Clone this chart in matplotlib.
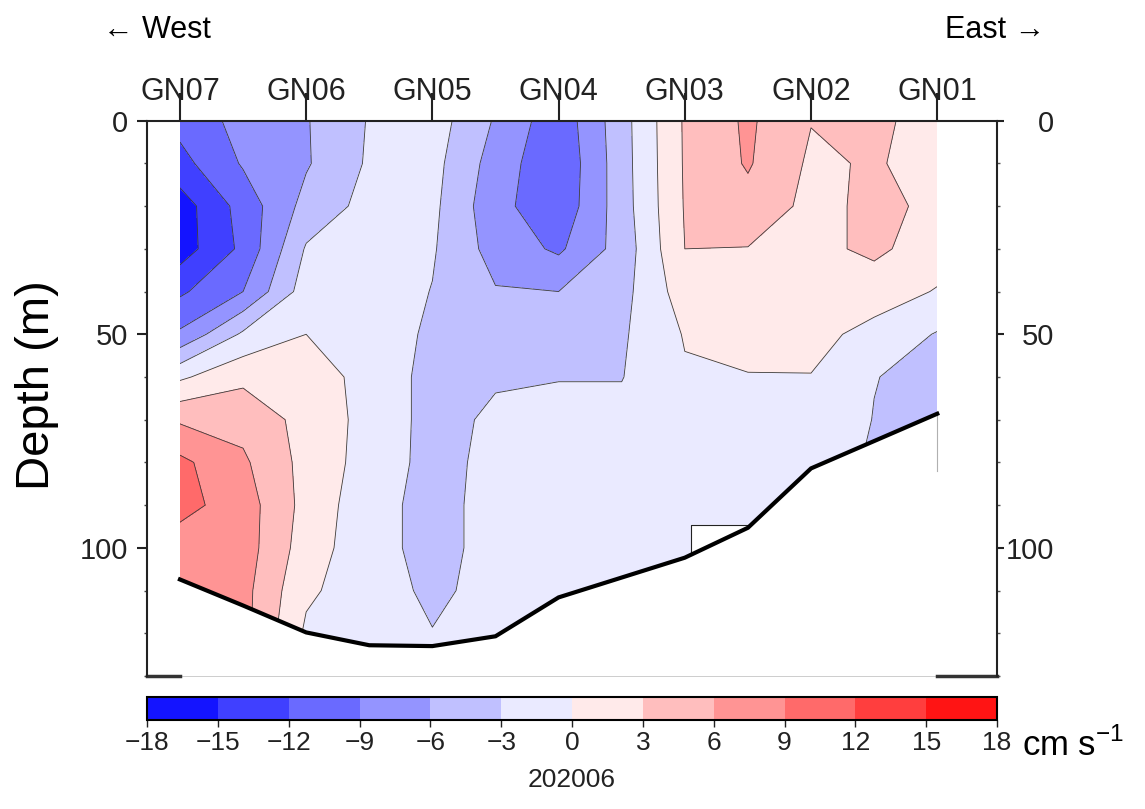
import matplotlib
matplotlib.use('Agg')
import matplotlib.pyplot as plt
from matplotlib.ticker import MultipleLocator
import numpy as np

plt.rcParams['font.family'] = ['Liberation Sans', 'DejaVu Sans']
plt.rcParams['mathtext.fontset'] = 'custom'
plt.rcParams['mathtext.rm'] = 'Liberation Sans'

# stations along the section (west -> east)
stations = ['GN07', 'GN06', 'GN05', 'GN04', 'GN03', 'GN02', 'GN01']
station_x = [0, 1, 2, 3, 4, 5, 6]

depth_levels = [0, 10, 20, 30, 40, 50, 60, 70, 80, 90, 100, 110, 120, 130]
profile_x = [0, 0.5, 1, 1.5, 2, 2.5, 3, 3.5, 4, 4.5, 5, 5.5, 6]
v_gn07 = [-11, -13, -16.5, -16.5, -12.5, -8.5, -0.5, 5.6, 9.7, 10, 7.5, 7.5, 7.5, 7.5]
v_gn07_06 = [-8, -8.7, -10.8, -11.3, -9, -2.5, 2.3, 5, 6.5, 7.5, 7.5, 7, 7, 7]
v_gn06 = [-6.2, -6.3, -5, -2.7, -1.5, 0, 1.5, 2, 2, 2, 1.5, 0.5, -0.5, -0.5]
v_gn06_05 = [-2.8, -2.6, -2, -1.5, -1.2, -1, -1, -1, -1.2, -1.9, -1.9, -1.6, -1.5, -1.5]
v_gn05 = [-1.5, -2, -2.3, -2.7, -3.1, -3.6, -4, -4, -4, -4, -4, -3.6, -2.9, -2.5]
v_gn05_04 = [-6.3, -7.3, -8, -7.2, -5.8, -4.5, -3.3, -2.5, -2.2, -2, -2, -2, -2, -2]
v_gn04 = [-11, -11.5, -11.2, -9.5, -6, -4.5, -3.1, -2.2, -1.8, -1.8, -1.8, -1.8, -1.8, -1.8]
v_gn04_03 = [-4.2, -4.3, -4.4, -4.8, -4.0, -3.4, -3.1, -2.2, -1.6, -1.4, -1.4, -1.4, -1.4, -1.4]
v_gn03 = [3.35, 3.3, 3.2, 3.0, 1.5, 0.2, -0.3, -0.8, -1.2, -1.3, -1.4, -1.4, -1.4, -1.4]
v_gn03_02 = [6.5, 6.3, 5, 2.9, 1.8, 0.8, -0.1, -0.7, -1, -1.2, -1.2, -1.2, -1.2, -1.2]
v_gn02 = [3.1, 2.5, 2.2, 2.2, 1.8, 1, -0.1, -0.6, -1, -1, -1, -1, -1, -1]
v_gn02_01 = [3.8, 3.3, 3.6, 3.6, 1.5, -1.0, -2.9, -3.1, -3.5, -3.5, -3.5, -3.5, -3.5, -3.5]
v_gn01 = [1.5, 1.8, 2.5, 1.5, -0.2, -3.2, -4, -4.5, -4.5, -4.5, -4.5, -4.5, -4.5, -4.5]

# sea floor along the section
bottom_x = [0, 0.5, 1, 1.5, 2, 2.5, 3, 4, 4.5, 5, 6]
bottom_depth = [107.4, 113.5, 119.8, 122.8, 123.0, 120.7, 111.6, 102.3, 95.3, 81.4, 68.6]

# small gap in the gridded data near GN03 and the data edge at GN01
gap_x = [4.05, 4.5]
gap_top = 94.6
edge_depth = 82

levels = np.arange(-18, 19, 3)

velocity = np.column_stack([v_gn07, v_gn07_06, v_gn06, v_gn06_05, v_gn05, v_gn05_04,
                            v_gn04, v_gn04_03, v_gn03, v_gn03_02, v_gn02, v_gn02_01, v_gn01])
X, D = np.meshgrid(profile_x, depth_levels)

fig = plt.figure(figsize=(11.45, 8.09), dpi=100, facecolor='white')
ax = fig.add_axes([0.1284, 0.1644, 0.7424, 0.6864])
ax.set_xlim(-0.261, 6.474)
ax.set_ylim(130, 0)
xl = ax.get_xlim()

cf = ax.contourf(X, D, velocity, levels=levels, cmap='bwr', vmin=-18, vmax=18)
ax.contour(X, D, velocity, levels=levels, colors='#3a3a3a', linewidths=0.6,
           negative_linestyles='solid')

# mask below the sea floor (carried flat past both end stations)
mask_x = [xl[0]] + bottom_x + [xl[1]]
mask_d = [bottom_depth[0]] + bottom_depth + [bottom_depth[-1]]
ax.fill_between(mask_x, mask_d, 130, color='white', zorder=3, lw=0)
ax.axvspan(xl[0], station_x[0], color='white', zorder=3, lw=0)
ax.axvspan(station_x[-1], xl[1], color='white', zorder=3, lw=0)
ax.plot(bottom_x, bottom_depth, color='black', lw=3, zorder=5, solid_joinstyle='miter')

gx0, gx1 = gap_x
gb0, gb1 = np.interp(gap_x, bottom_x, bottom_depth)
ax.fill([gx0, gx1, gx1, gx0], [gap_top, gap_top, gb1, gb0], color='white', zorder=3, lw=0)
ax.plot([gx0, gx0, gx1], [gb0, gap_top, gap_top], color='#222222', lw=0.8, zorder=4)
ax.plot([station_x[-1]] * 2, [bottom_depth[-1], edge_depth], color='#b0b0b0', lw=0.8, zorder=4)

# frame
for side in ['left', 'top', 'right']:
    ax.spines[side].set_linewidth(1.5)
    ax.spines[side].set_color('#222222')
    ax.spines[side].set_zorder(7)
ax.spines['bottom'].set_linewidth(1.2)
ax.spines['bottom'].set_color('#8a8a8a')
ax.plot([xl[0], station_x[0]], [130, 130], color='#333333', lw=2.5, clip_on=False, zorder=6)
ax.plot([station_x[-1], xl[1]], [130, 130], color='#333333', lw=2.5, clip_on=False, zorder=6)

# station ticks on top
ax.set_xticks(station_x, stations)
ax.xaxis.tick_top()
ax.tick_params(axis='x', direction='out', length=20, width=1.5, pad=-10,
               labelsize=22, colors='#222222')

# depth axis, left and right
ax.set_yticks([0, 50, 100])
ax.yaxis.set_minor_locator(MultipleLocator(10))
ax.tick_params(axis='y', which='major', length=7, width=1.5, labelsize=21,
               pad=6.5, colors='#222222')
ax.tick_params(axis='y', which='minor', length=2.5, width=1, colors='#444444')

sec = ax.secondary_yaxis('right')
sec.set_yticks([0, 50, 100])
sec.yaxis.set_minor_locator(MultipleLocator(10))
sec.spines['right'].set_visible(False)
sec.tick_params(axis='y', which='major', length=5, width=1.5, labelsize=21,
                pad=36, colors='#222222')
sec.tick_params(axis='y', which='minor', length=2.5, width=1, colors='#555555')
for lbl in sec.get_yticklabels():
    lbl.set_ha('right')

# colour bar
cax = fig.add_axes([0.1284, 0.110, 0.7424, 0.0284])
cb = fig.colorbar(cf, cax=cax, orientation='horizontal', ticks=levels)
cb.outline.set_linewidth(1.5)
cax.tick_params(length=5, width=1, labelsize=19, pad=3, colors='#222222')
cb.set_label('202006', fontsize=19, labelpad=9, color='#222222')

fig.text(1022 / 1145, 1 - 745 / 809, 'cm s$^{-1}$', fontsize=25, va='center', ha='left')
fig.text(37 / 1145, 1 - 385 / 809, 'Depth (m)', fontsize=34, rotation=90,
         va='center', ha='center')
fig.text(103 / 1145, 1 - 30 / 809, '\u2190 West', fontsize=22, va='center', ha='left')
fig.text(1045 / 1145, 1 - 30 / 809, 'East \u2192', fontsize=22, va='center', ha='right')

fig.savefig('out.png', dpi=100, facecolor='white')
